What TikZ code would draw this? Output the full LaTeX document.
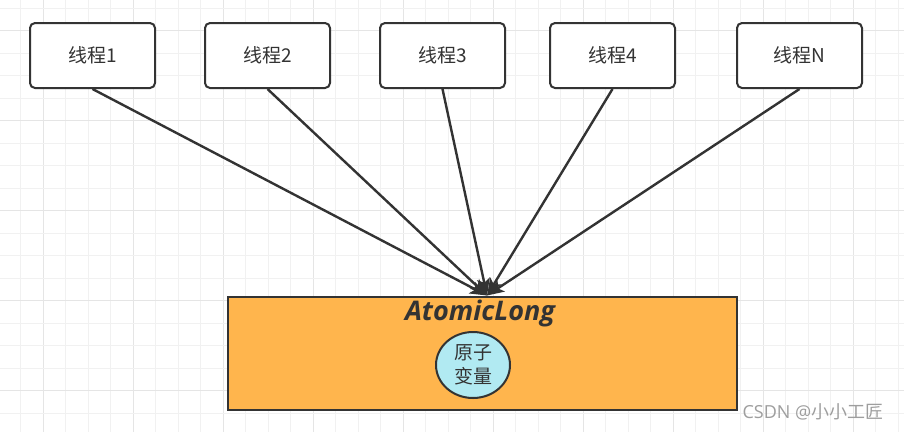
\documentclass[tikz,border=0pt]{standalone}
\usepackage{fontspec}
\setmainfont{Open Sans}
\newfontfamily\cjk{Noto Sans CJK SC}
\usetikzlibrary{arrows.meta,shapes.geometric}
\definecolor{inkgray}{HTML}{333333}
\definecolor{atomorange}{HTML}{FFB54D}
\definecolor{varcyan}{HTML}{B1EAF2}
\definecolor{gridminor}{HTML}{F1F1F1}
\definecolor{gridmajor}{HTML}{E5E5E5}
\tikzset{>/.tip={Stealth[length=17pt,width=13pt,inset=4pt]},
  thread/.style={draw=inkgray, line width=2pt, rounded corners=5pt, fill=white,
    minimum width=125pt, minimum height=65pt, text=inkgray,
    font=\cjk\fontsize{19}{22}\selectfont},
  feed/.style={->, draw=inkgray, line width=2.4pt}}

\begin{document}
\begin{tikzpicture}[x=1pt, y=-1pt]
\useasboundingbox[fill=white] (0,0) rectangle (904,432);
% grid
\foreach \k in {0,...,39} {
  \pgfmathsetmacro{\gx}{20.7+22.5*\k}
  \pgfmathtruncatemacro{\m}{mod(\k,4)}
  \ifnum\m=1 \draw[gridmajor, line width=1.2pt] (\gx,0) -- (\gx,432);
  \else \draw[gridminor, line width=1.2pt] (\gx,0) -- (\gx,432); \fi
}
\foreach \k in {0,...,18} {
  \pgfmathsetmacro{\gy}{8.2+22.5*\k}
  \pgfmathtruncatemacro{\m}{mod(\k,4)}
  \ifnum\m=1 \draw[gridmajor, line width=1.2pt] (0,\gy) -- (904,\gy);
  \else \draw[gridminor, line width=1.2pt] (0,\gy) -- (904,\gy); \fi
}

\node[thread] (t1) at (92.5,55.5) {线程1};
\node[thread] (t2) at (267.5,55.5) {线程2};
\node[thread] (t3) at (442.5,55.5) {线程3};
\node[thread] (t4) at (612.5,55.5) {线程4};
\node[thread] (tn) at (799.5,55.5) {线程N};

\node[draw=inkgray, line width=2pt, fill=atomorange, minimum width=509pt,
  minimum height=113pt] (atomic) at (482.5,353.5) {};
\node[text=inkgray, font=\bfseries\itshape\fontsize{27}{30}\selectfont]
  (label) at (480,313.5) {AtomicLong};
\node[draw=inkgray, line width=2pt, fill=varcyan, ellipse, minimum width=74pt,
  minimum height=66pt, inner sep=0pt, align=center, text=inkgray,
  font=\cjk\fontsize{19}{24}\selectfont] (var) at (473,365) {原子\\变量};
\coordinate (hit) at (487,295.5);

\draw[feed] (t1.south) -- (hit);
\draw[feed] (t2.south) -- (hit);
\draw[feed] (t3.south) -- (hit);
\draw[feed] (t4.south) -- (hit);
\draw[feed] (tn.south) -- (hit);

\node[text=black!38, font=\fontsize{18}{20}\selectfont] (mark) at (813,412)
  {CSDN @{\cjk 小小工匠}};
\end{tikzpicture}
\end{document}
